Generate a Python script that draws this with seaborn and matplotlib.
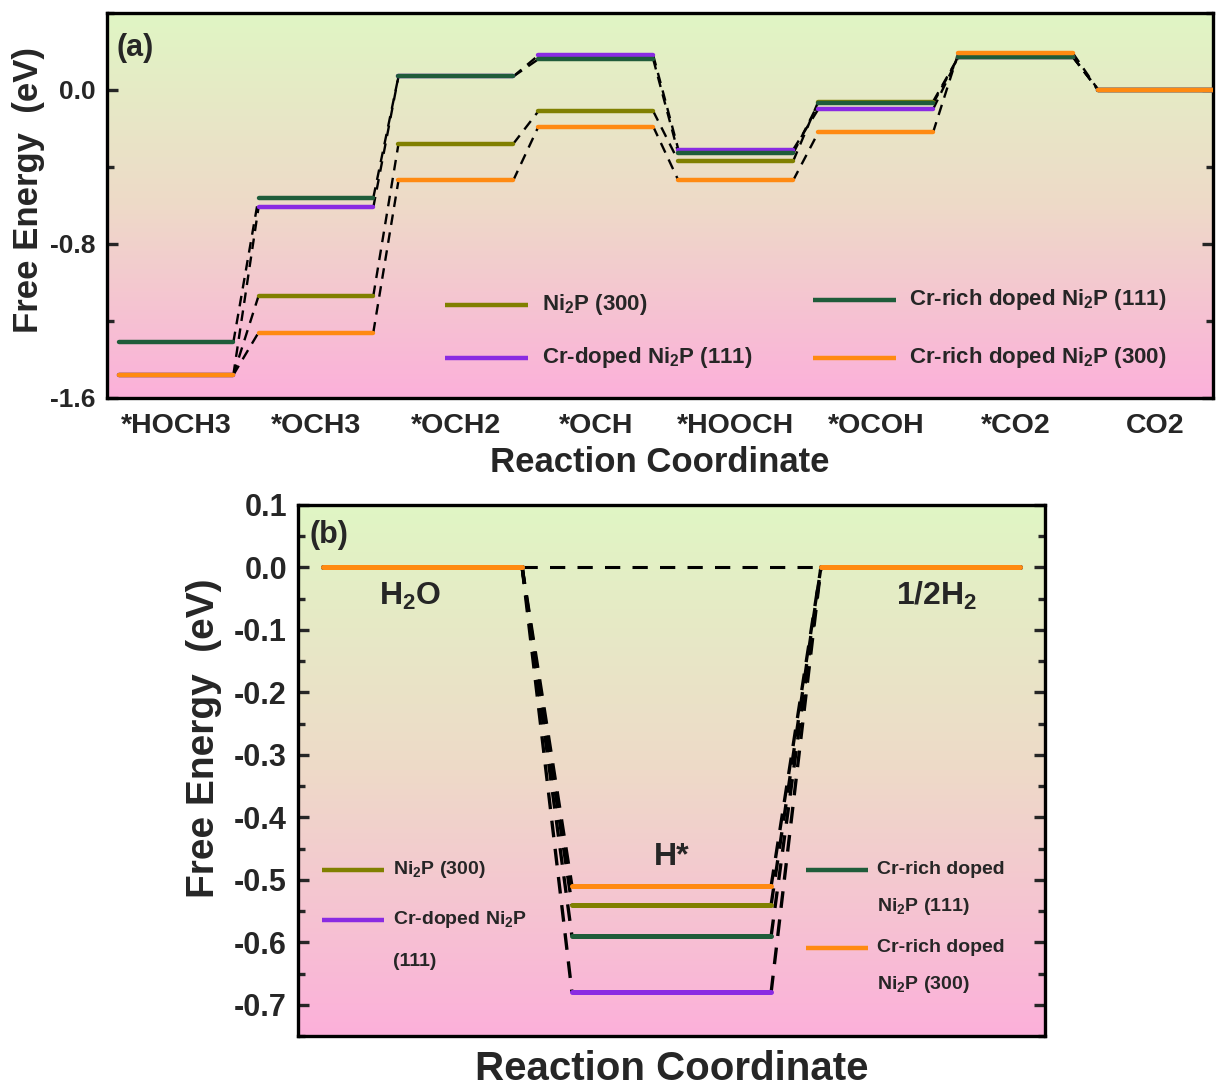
import numpy as np
import pandas as pd
import matplotlib
matplotlib.use("Agg")
import matplotlib.pyplot as plt
from matplotlib.colors import LinearSegmentedColormap
from matplotlib.ticker import MultipleLocator, FormatStrFormatter
import seaborn as sns

# ---------------- data ----------------
# (a) CO2 <-> methanol pathway, free energy of each intermediate (eV)
steps_a = ["*HOCH3", "*OCH3", "*OCH2", "*OCH", "*HOOCH", "*OCOH", "*CO2", "CO2"]
ni2p_300_a = [-1.48, -1.07, -0.28, -0.11, -0.37, -0.06, 0.17, 0.0]
cr_doped_111_a = [-1.48, -0.61, 0.07, 0.18, -0.31, -0.10, 0.17, 0.0]
cr_rich_111_a = [-1.31, -0.56, 0.07, 0.16, -0.33, -0.07, 0.17, 0.0]
cr_rich_300_a = [-1.48, -1.26, -0.47, -0.19, -0.47, -0.22, 0.19, 0.0]

# (b) hydrogen evolution, free energy of H* (eV)
steps_b = ["H$_2$O", "H*", "1/2H$_2$"]
ni2p_300_b = [0.0, -0.54, 0.0]
cr_doped_111_b = [0.0, -0.68, 0.0]
cr_rich_111_b = [0.0, -0.59, 0.0]
cr_rich_300_b = [0.0, -0.51, 0.0]

series_names = ["Ni$_2$P (300)", "Cr-doped Ni$_2$P (111)",
                "Cr-rich doped Ni$_2$P (111)", "Cr-rich doped Ni$_2$P (300)"]
palette = ["#808000", "#8a2be2", "#1f5c3a", "#ff8a12"]

# ---------------- style ----------------
sns.set_theme(style="ticks")
plt.rcParams.update({
    "font.family": ["Liberation Sans", "DejaVu Sans"],
    "font.weight": "bold",
    "axes.labelweight": "bold",
    "axes.unicode_minus": False,
    "mathtext.fontset": "custom",
    "mathtext.rm": "Liberation Sans:bold",
    "mathtext.it": "Liberation Sans:bold",
    "mathtext.bf": "Liberation Sans:bold",
    "axes.linewidth": 2.4,
    "axes.edgecolor": "black",
})

bg_cmap = LinearSegmentedColormap.from_list(
    "bg", [(0.0, "#fcb0da"), (0.5, "#eedac8"), (1.0, "#e0f6c4")])


def level_frame(series_values, half):
    rows = []
    for name, vals in zip(series_names, series_values):
        for i, v in enumerate(vals, start=1):
            rows.append((name, i, i - half, v))
            rows.append((name, i, i + half, v))
    return pd.DataFrame(rows, columns=["series", "step", "x", "E"])


def draw_connectors(ax, series_values, half, lw, dashes):
    for vals in series_values:
        for i in range(len(vals) - 1):
            ax.plot([i + 1 + half, i + 2 - half], [vals[i], vals[i + 1]],
                    color="black", lw=lw, ls=(0, dashes), zorder=2)


def paint_background(ax, xlim, ylim):
    grad = np.linspace(0, 1, 256).reshape(-1, 1)
    ax.imshow(grad, extent=(xlim[0], xlim[1], ylim[0], ylim[1]),
              origin="lower", aspect="auto", cmap=bg_cmap, zorder=0)
    ax.set_xlim(xlim)
    ax.set_ylim(ylim)


def manual_legend(ax, entries, fontsize, lw, line_len):
    # entries: (x, y, color, [text lines], line spacing in axes fraction)
    for x, y, color, lines, dy in entries:
        ax.plot([x, x + line_len], [y, y], color=color, lw=lw,
                transform=ax.transAxes, solid_capstyle="butt", zorder=5)
        for k, line in enumerate(lines):
            ax.text(x + line_len + 0.012, y - k * dy, line, transform=ax.transAxes,
                    ha="left", va="center", fontsize=fontsize, fontweight="bold",
                    zorder=5)


fig = plt.figure(figsize=(12.17, 10.88), dpi=100)

# ---------------- panel (a) ----------------
ax_a = fig.add_axes([0.0879, 0.6342, 0.9088, 0.3539])
vals_a = [ni2p_300_a, cr_doped_111_a, cr_rich_111_a, cr_rich_300_a]
half_a = 0.41
df_a = level_frame(vals_a, half_a)
sns.lineplot(data=df_a, x="x", y="E", hue="series", units="step",
             estimator=None, sort=False, hue_order=series_names,
             palette=palette, lw=3.2, legend=False, ax=ax_a, zorder=3)
draw_connectors(ax_a, vals_a, half_a, 1.7, (4.5, 3.2))
paint_background(ax_a, (0.507, 8.41), (-1.6, 0.4))

ax_a.set_xticks(range(1, len(steps_a) + 1))
ax_a.set_xticklabels(steps_a, fontsize=20.5, fontweight="bold")
ax_a.tick_params(axis="x", length=0, pad=11)
ax_a.yaxis.set_major_locator(MultipleLocator(0.8))
ax_a.yaxis.set_minor_locator(MultipleLocator(0.4))
ax_a.yaxis.set_major_formatter(FormatStrFormatter("%.1f"))
ax_a.tick_params(axis="y", which="both", direction="in", right=True,
                 labelsize=19, width=2.4, pad=8)
ax_a.tick_params(axis="y", which="major", length=8)
ax_a.tick_params(axis="y", which="minor", length=5)
for lab in ax_a.get_yticklabels():
    lab.set_fontweight("bold")
ax_a.set_xlabel("Reaction Coordinate", fontsize=25, fontweight="bold", labelpad=5)
ax_a.set_ylabel("Free Energy  (eV)", fontsize=25, fontweight="bold")
ax_a.yaxis.set_label_coords(-0.056, 0.54)
ax_a.text(0.009, 0.91, "(a)", transform=ax_a.transAxes, fontsize=22,
          fontweight="bold", ha="left", va="center", zorder=5)

manual_legend(ax_a, [
    (0.3056, 0.2416, palette[0], [series_names[0]], 0),
    (0.3056, 0.1039, palette[1], [series_names[1]], 0),
    (0.638, 0.2545, palette[2], [series_names[2]], 0),
    (0.638, 0.1039, palette[3], [series_names[3]], 0),
], fontsize=16, lw=3.2, line_len=0.0755)

# ---------------- panel (b) ----------------
ax_b = fig.add_axes([0.2449, 0.0478, 0.6138, 0.4881])
vals_b = [ni2p_300_b, cr_doped_111_b, cr_rich_111_b, cr_rich_300_b]
half_b = 0.40
df_b = level_frame(vals_b, half_b)
sns.lineplot(data=df_b, x="x", y="E", hue="series", units="step",
             estimator=None, sort=False, hue_order=series_names,
             palette=palette, lw=3.6, legend=False, ax=ax_b, zorder=3,
             solid_capstyle="round")
draw_connectors(ax_b, vals_b, half_b, 2.4, (5, 3.5))
# direct H2O -> 1/2H2 reference line
ax_b.plot([1 + half_b, 3 - half_b], [cr_rich_300_b[0], cr_rich_300_b[2]],
          color="black", lw=2.2, ls=(0, (5, 4)), zorder=2)
paint_background(ax_b, (0.5, 3.5), (-0.75, 0.1))

ax_b.set_xticks([])
ax_b.yaxis.set_major_locator(MultipleLocator(0.1))
ax_b.yaxis.set_minor_locator(MultipleLocator(0.05))
ax_b.yaxis.set_major_formatter(FormatStrFormatter("%.1f"))
ax_b.tick_params(axis="y", which="both", direction="in", right=True,
                 labelsize=22, width=2.4, pad=8)
ax_b.tick_params(axis="y", which="major", length=8)
ax_b.tick_params(axis="y", which="minor", length=5)
for lab in ax_b.get_yticklabels():
    lab.set_fontweight("bold")
ax_b.set_xlabel("Reaction Coordinate", fontsize=29, fontweight="bold", labelpad=10)
ax_b.set_ylabel("Free Energy  (eV)", fontsize=28, fontweight="bold")
ax_b.yaxis.set_label_coords(-0.102, 0.561)
ax_b.text(0.016, 0.9435, "(b)", transform=ax_b.transAxes, fontsize=22,
          fontweight="bold", ha="left", va="center", zorder=5)

ax_b.text(0.95, -0.046, steps_b[0], fontsize=23, fontweight="bold",
          ha="center", va="center", zorder=5)
ax_b.text(2.0, -0.464, steps_b[1], fontsize=23, fontweight="bold",
          ha="center", va="center", zorder=5)
ax_b.text(3.066, -0.046, steps_b[2], fontsize=23, fontweight="bold",
          ha="center", va="center", zorder=5)

manual_legend(ax_b, [
    (0.032, 0.3126, palette[0], ["Ni$_2$P (300)"], 0),
    (0.032, 0.2185, palette[1], ["Cr-doped Ni$_2$P", "(111)"], 0.079),
    (0.680, 0.3126, palette[2], ["Cr-rich doped", "Ni$_2$P (111)"], 0.068),
    (0.680, 0.1657, palette[3], ["Cr-rich doped", "Ni$_2$P (300)"], 0.068),
], fontsize=14, lw=3.2, line_len=0.083)

fig.savefig("out.png", dpi=100)
